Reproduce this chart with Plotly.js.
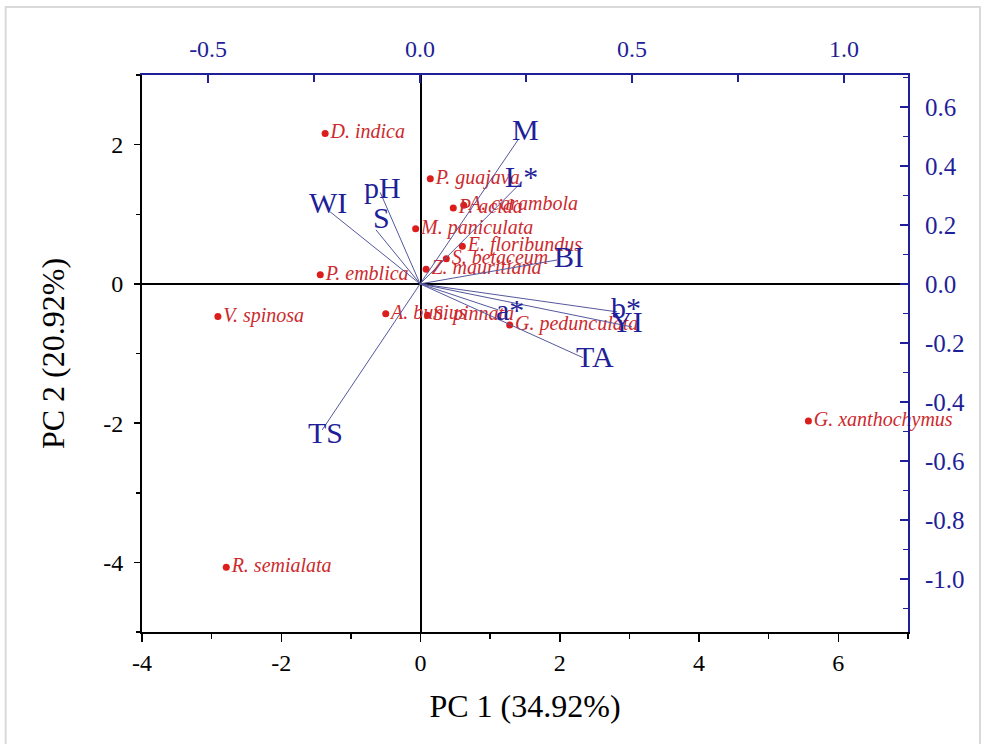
<!DOCTYPE html>
<html>
<head>
<meta charset="utf-8">
<script src="https://cdn.plot.ly/plotly-3.0.1.min.js"></script>
<style>html,body{margin:0;padding:0;background:#fff;}#chart{width:982px;height:744px;}</style>
</head>
<body>
<div id="chart"></div>
<script>
// Scores (primary axes)
var species = ["D. indica","P. guajava","A. carambola","P. acida","M. paniculata","E. floribundus","S. betaceum","Z. mauritiana","P. emblica","V. spinosa","A. bunius","S. pinnata","G. pedunculata","G. xanthochymus","R. semialata"];
var pc1 = [-1.37, 0.14, 0.62, 0.47, -0.07, 0.60, 0.37, 0.08, -1.44, -2.91, -0.50, 0.10, 1.28, 5.57, -2.79];
var pc2 = [2.16, 1.51, 1.13, 1.09, 0.79, 0.54, 0.36, 0.21, 0.13, -0.47, -0.43, -0.45, -0.59, -1.97, -4.07];

// Loadings (secondary axes)
var variables = ["M","L*","pH","S","WI","BI","a*","b*","YI","TA","TS"];
var load1 = [0.231, 0.240, -0.094, -0.104, -0.212, 0.323, 0.184, 0.465, 0.500, 0.384, -0.231];
var load2 = [0.488, 0.346, 0.310, 0.183, 0.244, 0.081, -0.088, -0.095, -0.146, -0.250, -0.495];

// Tick labels
var xTickVals = [-4, -2, 0, 2, 4, 6];
var xTickText = ["-4", "-2", "0", "2", "4", "6"];
var yTickVals = [-4, -2, 0, 2];
var yTickText = ["-4", "-2", "0", "2"];
var x2TickVals = [-0.5, 0.0, 0.5, 1.0];
var x2TickText = ["-0.5", "0.0", "0.5", "1.0"];
var y2TickVals = [0.6, 0.4, 0.2, 0.0, -0.2, -0.4, -0.6, -0.8, -1.0];
var y2TickText = ["0.6", "0.4", "0.2", "0.0", "-0.2", "-0.4", "-0.6", "-0.8", "-1.0"];

// label pixel offsets (style)
var labShiftX = [7, 0, 2, 5, -2, 12, 12, 9, -5, 12, 3];
var labShiftY = [10, 5, 5, 12, 9, 3, 0, 4, 5, 1, -3];

var blue = "#1f1f99";
var serif = "Liberation Serif, Times New Roman, serif";

var vx = [], vy = [];
for (var i = 0; i < variables.length; i++) {
  vx.push(0, load1[i], null);
  vy.push(0, load2[i], null);
}

var traces = [
  {
    type: "scatter", mode: "lines", x: vx, y: vy, xaxis: "x2", yaxis: "y2",
    line: {color: "#55579c", width: 1}, hoverinfo: "skip", showlegend: false
  },
  {
    type: "scatter", mode: "markers+text", x: pc1, y: pc2, text: species,
    textposition: "middle right", cliponaxis: false,
    textfont: {family: serif, size: 20, color: "#cc2a2e", style: "italic"},
    marker: {color: "#dd1c1c", size: 7},
    showlegend: false
  }
];

var annotations = [];
for (var j = 0; j < variables.length; j++) {
  annotations.push({
    x: load1[j], y: load2[j], xref: "x2", yref: "y2", text: variables[j],
    showarrow: false, xshift: labShiftX[j], yshift: labShiftY[j],
    font: {family: serif, size: 30, color: blue}
  });
}

var layout = {
  width: 982, height: 744,
  margin: {l: 142, r: 74, t: 75, b: 112},
  paper_bgcolor: "#fff", plot_bgcolor: "#fff",
  font: {family: serif, color: "#000"},
  showlegend: false,
  xaxis: {
    range: [-4, 7], tickvals: xTickVals, ticktext: xTickText, ticks: "outside", ticklen: 8, tickwidth: 1.5, tickcolor: "#000",
    minor: {dtick: 1, tick0: 0, ticks: "outside", ticklen: 5, tickcolor: "#000"},
    showline: true, linecolor: "#000", linewidth: 2, showgrid: false,
    zeroline: true, zerolinecolor: "#000", zerolinewidth: 2,
    tickfont: {family: serif, size: 24, color: "#000"},
    title: {text: "PC 1 (34.92%)", font: {family: serif, size: 32, color: "#000"}, standoff: 20},
    anchor: "y"
  },
  yaxis: {
    range: [-5, 3], tickvals: yTickVals, ticktext: yTickText, ticks: "outside", ticklen: 6, tickwidth: 1.5, tickcolor: "#000",
    minor: {dtick: 1, tick0: 0, ticks: "outside", ticklen: 4, tickcolor: "#000"},
    showline: true, linecolor: "#000", linewidth: 2, showgrid: false,
    zeroline: true, zerolinecolor: "#000", zerolinewidth: 2,
    tickfont: {family: serif, size: 24, color: "#000"}, ticklabelstandoff: 6,
    title: {text: "PC 2 (20.92%)", font: {family: serif, size: 32, color: "#000"}, standoff: 29},
    anchor: "x"
  },
  xaxis2: {
    overlaying: "x", side: "top", anchor: "y2",
    range: [-0.656, 1.151], tickvals: x2TickVals, ticktext: x2TickText,
    ticks: "inside", ticklen: 8, tickwidth: 1.5, tickcolor: blue,
    minor: {dtick: 0.25, tick0: 0, ticks: "inside", ticklen: 7, tickcolor: blue},
    showline: true, linecolor: blue, linewidth: 2, showgrid: false, zeroline: false,
    tickfont: {family: serif, size: 24, color: blue}, ticklabelstandoff: 6
  },
  yaxis2: {
    overlaying: "y", side: "right", anchor: "x2",
    range: [-1.18, 0.708], tickvals: y2TickVals, ticktext: y2TickText,
    ticks: "inside", ticklen: 8, tickwidth: 1.5, tickcolor: blue,
    minor: {dtick: 0.1, tick0: 0, ticks: "inside", ticklen: 5, tickcolor: blue},
    showline: true, linecolor: blue, linewidth: 2, showgrid: false, zeroline: false,
    tickfont: {family: serif, size: 25, color: blue}, ticklabelstandoff: 10
  },
  annotations: annotations,
  shapes: [{
    type: "rect", xref: "paper", yref: "paper",
    x0: -0.178, x1: 1.094, y0: -0.3, y1: 1.122,
    line: {color: "#d9d9d9", width: 2}, fillcolor: "rgba(0,0,0,0)", layer: "below"
  }]
};

Plotly.newPlot("chart", traces, layout, {displayModeBar: false, staticPlot: true});
</script>
</body>
</html>
